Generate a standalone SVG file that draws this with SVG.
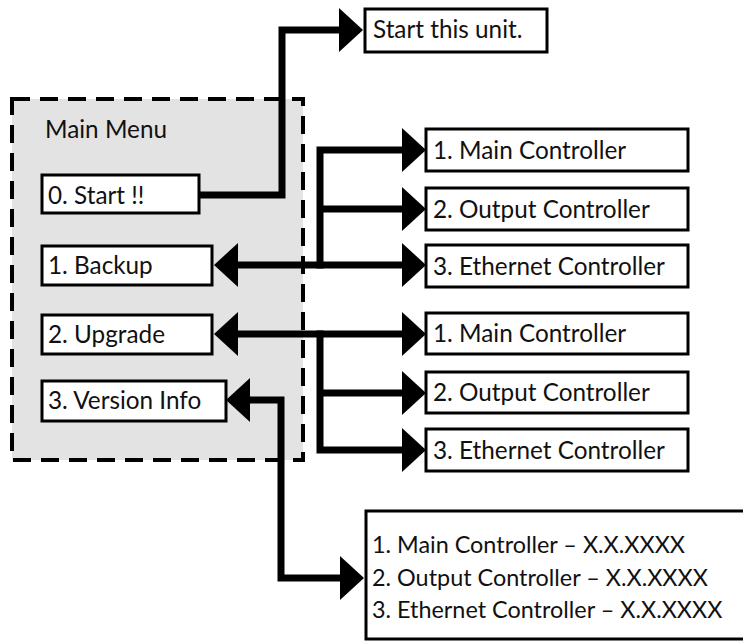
<svg xmlns="http://www.w3.org/2000/svg" width="743" height="641" viewBox="0 0 743 641">
<style>
  .box{fill:#ffffff;stroke:#000;stroke-width:3}
  .t{font-family:Lato,"Open Sans","Liberation Sans",sans-serif;font-size:24.3px;fill:#111}
  .v{font-size:23.4px}
  .c{fill:none;stroke:#000;stroke-width:7;stroke-linejoin:miter}
  .menu{fill:#e3e3e3;stroke:#000;stroke-width:4;stroke-dasharray:18 10}
</style>
<defs>
  <marker id="ah" viewBox="0 0 24 44" refX="0" refY="22" markerWidth="24" markerHeight="44" markerUnits="userSpaceOnUse" orient="auto-start-reverse">
    <path d="M0,0 L24,22 L0,44 Z" fill="#000"/>
  </marker>
</defs>

<g id="main-menu">
  <rect class="menu" x="12" y="99" width="291" height="361"/>
  <text class="t" x="45" y="138">Main Menu</text>
</g>

<g id="connectors">
  <path class="c" d="M199,195 H282 V30 H339" marker-end="url(#ah)"/>
  <path class="c" d="M238,265 H402" marker-start="url(#ah)" marker-end="url(#ah)"/>
  <path class="c" d="M320,268.5 V150 H402" marker-end="url(#ah)"/>
  <path class="c" d="M320,209 H402" marker-end="url(#ah)"/>
  <path class="c" d="M238,334 H402" marker-start="url(#ah)" marker-end="url(#ah)"/>
  <path class="c" d="M320,330.5 V450 H402" marker-end="url(#ah)"/>
  <path class="c" d="M320,393 H402" marker-end="url(#ah)"/>
  <path class="c" d="M250,400 H281 V578 H340" marker-start="url(#ah)" marker-end="url(#ah)"/>
</g>

<g id="start">
  <rect class="box" x="42" y="175" width="157" height="38"/>
  <text class="t" x="48" y="204">0. Start !!</text>
</g>
<g id="backup">
  <rect class="box" x="42" y="246" width="170" height="39"/>
  <text class="t" x="48" y="274">1. Backup</text>
</g>
<g id="upgrade">
  <rect class="box" x="42" y="315" width="170" height="39"/>
  <text class="t" x="48" y="343">2. Upgrade</text>
</g>
<g id="version">
  <rect class="box" x="42" y="381" width="184" height="40"/>
  <text class="t" x="48" y="409">3. Version Info</text>
</g>

<g id="start-unit">
  <rect class="box" x="365" y="9" width="182" height="43"/>
  <text class="t" x="373" y="38">Start this unit.</text>
</g>

<g id="backup-main">
  <rect class="box" x="426" y="129" width="262" height="42"/>
  <text class="t" x="433" y="159">1. Main Controller</text>
</g>
<g id="backup-output">
  <rect class="box" x="426" y="188" width="262" height="42"/>
  <text class="t" x="433" y="218">2. Output Controller</text>
</g>
<g id="backup-ethernet">
  <rect class="box" x="426" y="245" width="262" height="42"/>
  <text class="t" x="433" y="275">3. Ethernet Controller</text>
</g>

<g id="upgrade-main">
  <rect class="box" x="426" y="313" width="262" height="41"/>
  <text class="t" x="433" y="342">1. Main Controller</text>
</g>
<g id="upgrade-output">
  <rect class="box" x="426" y="372" width="262" height="41"/>
  <text class="t" x="433" y="401">2. Output Controller</text>
</g>
<g id="upgrade-ethernet">
  <rect class="box" x="426" y="429" width="262" height="42"/>
  <text class="t" x="433" y="459">3. Ethernet Controller</text>
</g>

<g id="version-info">
  <rect class="box" x="366" y="511" width="390" height="128"/>
  <text class="t v" x="372" y="553">1. Main Controller – X.X.XXXX</text>
  <text class="t v" x="372" y="586">2. Output Controller – X.X.XXXX</text>
  <text class="t v" x="372" y="618">3. Ethernet Controller – X.X.XXXX</text>
</g>
</svg>
